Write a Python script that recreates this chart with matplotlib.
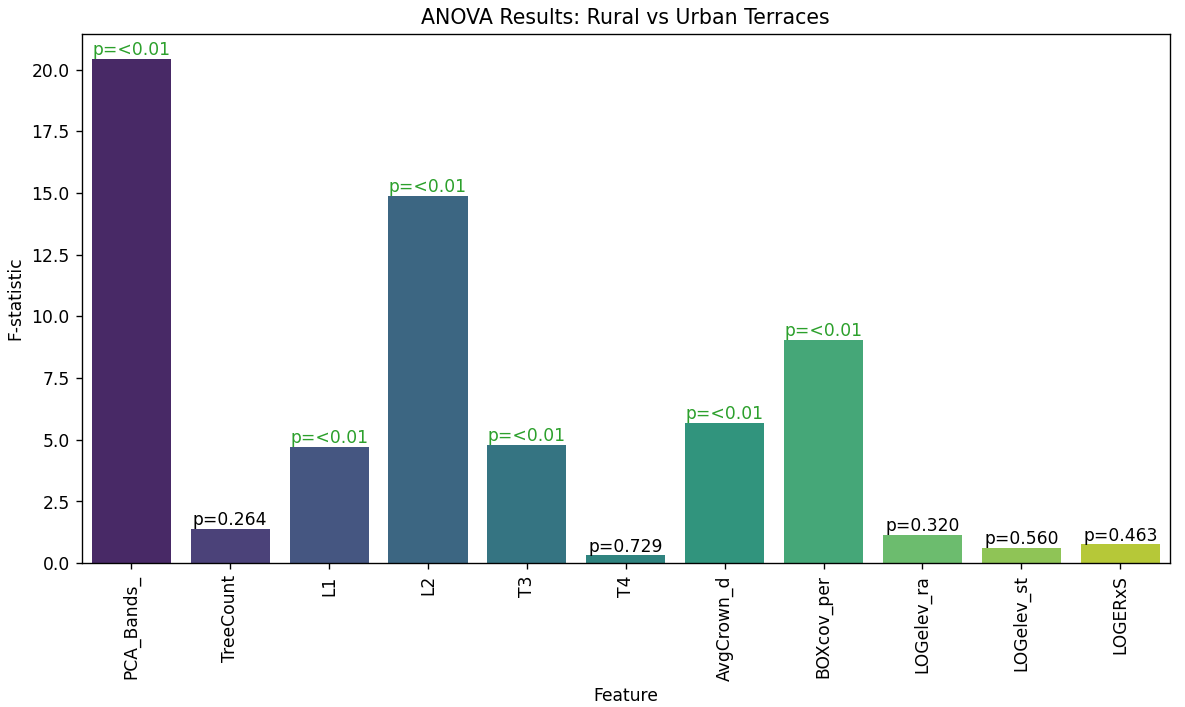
import numpy as np
import pandas as pd
import matplotlib
matplotlib.use('Agg')
import matplotlib.pyplot as plt
import seaborn as sns

features = ['PCA_Bands_', 'TreeCount', 'L1', 'L2', 'T3', 'T4',
            'AvgCrown_d', 'BOXcov_per', 'LOGelev_ra', 'LOGelev_st', 'LOGERxS']
f_stats = [20.43, 1.37, 4.69, 14.89, 4.79, 0.31, 5.68, 9.03, 1.15, 0.60, 0.75]
p_labels = ['<0.01', '0.264', '<0.01', '<0.01', '<0.01', '0.729',
            '<0.01', '<0.01', '0.320', '0.560', '0.463']

df = pd.DataFrame({'Feature': features, 'F-statistic': f_stats, 'p': p_labels})

fig, ax = plt.subplots(figsize=(9.64, 5.75), dpi=123)
fig.subplots_adjust(left=0.069, right=0.9865, top=0.952, bottom=0.2037)

sns.barplot(data=df, x='Feature', y='F-statistic', hue='Feature',
            palette='viridis', legend=False, ax=ax)

# annotate each bar with its p-value; significant ones in green
for i, row in df.iterrows():
    col = '#2ca02c' if row['p'].startswith('<') else 'black'
    ax.text(i, row['F-statistic'], 'p=' + row['p'], ha='center', va='bottom',
            color=col, fontsize=10)

ax.set_title('ANOVA Results: Rural vs Urban Terraces')
ax.tick_params(axis='x', rotation=90)

plt.savefig('out.png', dpi=123)
